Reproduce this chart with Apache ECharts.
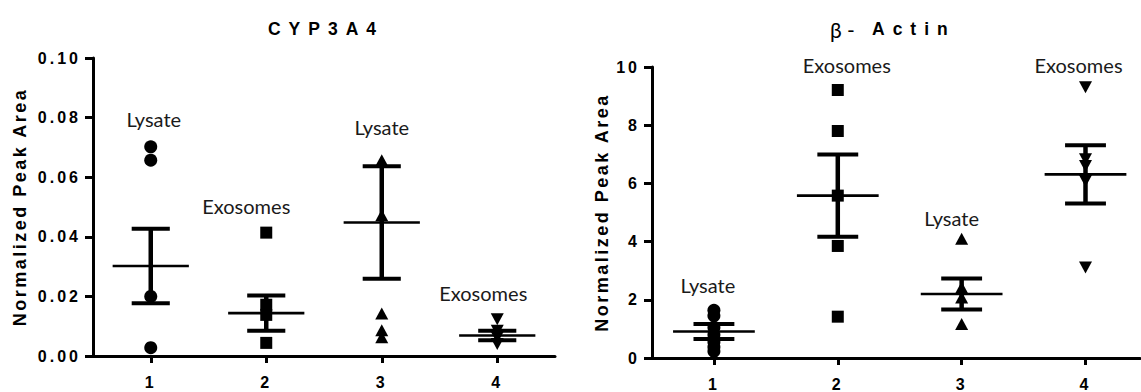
<!DOCTYPE html>
<html><head><meta charset="utf-8">
<script src="https://cdn.jsdelivr.net/npm/echarts@6/dist/echarts.min.js"></script>
<style>
html,body{margin:0;padding:0;background:#fff}
#c{width:1141px;height:392px}
svg text[style*="16px"]{letter-spacing:3px}
svg text[style*="18px"]{letter-spacing:2.5px}
svg text[style*="17.5px"]{letter-spacing:8px}
</style></head>
<body><div id="c"></div>
<script>
// ---- data ----
const categories = [1, 2, 3, 4];
const xTickLabels = ['1', '2', '3', '4'];
const groupLabels = ['Lysate', 'Exosomes', 'Lysate', 'Exosomes'];

// CYP3A4
const cypGroup1 = [0.0702, 0.0657, 0.0200, 0.0028];
const cypGroup2 = [0.0414, 0.0172, 0.0138, 0.0044];
const cypGroup3 = [0.0657, 0.0472, 0.0143, 0.0086, 0.0063];
const cypGroup4 = [0.0123, 0.0085, 0.0062, 0.0040];
const cypMean = [0.0302, 0.0144, 0.0448, 0.0069];
const cypSem = [0.0125, 0.0059, 0.0189, 0.0016];
const cypTickLabels = ['0.00', '0.02', '0.04', '0.06', '0.08', '0.10'];

// beta-Actin
const actGroup1 = [1.64, 1.45, 1.05, 0.80, 0.55, 0.38, 0.23];
const actGroup2 = [9.21, 7.80, 5.58, 3.85, 1.42];
const actGroup3 = [4.10, 2.42, 2.08, 1.17];
const actGroup4 = [9.30, 6.83, 6.60, 6.08, 3.11];
const actMean = [0.91, 5.58, 2.20, 6.31];
const actSem = [0.26, 1.41, 0.53, 1.00];
const actTickLabels = ['0', '2', '4', '6', '8', '10'];

// ---- chart ----
const chart = echarts.init(document.getElementById('c'), null, {renderer: 'svg'});
const BOLD = 'Liberation Sans';
const symbols = [
  {symbol: 'circle', size: 13, rotate: 0},
  {symbol: 'rect', size: 12, rotate: 0},
  {symbol: 'triangle', size: [13, 12], rotate: 0},
  {symbol: 'triangle', size: [13, 12], rotate: 180}
];

function scatter(gi, idx, values, labelOffset) {
  const s = symbols[idx];
  const x = categories[idx];
  let maxI = 0;
  values.forEach((v, i) => { if (v > values[maxI]) maxI = i; });
  const data = values.map((v, i) => {
    const item = {value: [x, v]};
    if (i === maxI) {
      item.label = {
        show: true, position: 'inside', offset: labelOffset,
        formatter: groupLabels[idx],
        fontFamily: 'Lato', fontSize: 20, color: '#1a1a1a'
      };
    }
    return item;
  });
  return {
    type: 'scatter', xAxisIndex: gi, yAxisIndex: gi, z: 3,
    symbol: s.symbol, symbolSize: s.size, symbolRotate: s.rotate,
    itemStyle: {color: '#000', opacity: 1}, clip: false,
    data: data
  };
}

function errRender(params, api) {
  const x = api.value(0), m = api.value(1), s = api.value(2);
  const c = api.coord([x, m]);
  const hi = api.coord([x, m + s]);
  const lo = api.coord([x, m - s]);
  const unit = api.size([1, 0])[0];
  const hw = unit * 0.33, cw = unit * 0.165;
  const st = (w) => ({stroke: '#000', lineWidth: w});
  return {type: 'group', children: [
    {type: 'line', shape: {x1: c[0] - hw, y1: c[1], x2: c[0] + hw, y2: c[1]}, style: st(2.6)},
    {type: 'line', shape: {x1: c[0], y1: hi[1], x2: c[0], y2: lo[1]}, style: st(4.5)},
    {type: 'line', shape: {x1: c[0] - cw, y1: hi[1], x2: c[0] + cw, y2: hi[1]}, style: st(4)},
    {type: 'line', shape: {x1: c[0] - cw, y1: lo[1], x2: c[0] + cw, y2: lo[1]}, style: st(4)}
  ]};
}

function errSeries(gi, means, sems) {
  return {
    type: 'custom', xAxisIndex: gi, yAxisIndex: gi, z: 2, clip: false,
    renderItem: errRender,
    data: categories.map((c, i) => [c, means[i], sems[i]])
  };
}

function xAxis(gi, max) {
  return {
    type: 'value', gridIndex: gi, min: 0.5, max: max,
    axisLine: {show: true, onZero: false, lineStyle: {color: '#000', width: 3}},
    axisTick: {show: true, customValues: categories, length: 7, lineStyle: {color: '#000', width: 3}},
    axisLabel: {customValues: categories, formatter: v => xTickLabels[categories.indexOf(v)],
      fontFamily: BOLD, fontWeight: 'bold', fontSize: 16, color: '#000', margin: 18},
    splitLine: {show: false}
  };
}

function yAxis(gi, max, interval, labels, nameGap) {
  return {
    type: 'value', gridIndex: gi, min: 0, max: max, interval: interval,
    name: 'Normalized Peak Area', nameLocation: 'middle', nameRotate: 90, nameGap: nameGap,
    nameTextStyle: {fontFamily: BOLD, fontWeight: 'bold', fontSize: 18, color: '#000'},
    axisLine: {show: true, lineStyle: {color: '#000', width: 3}},
    axisTick: {show: true, length: 8, lineStyle: {color: '#000', width: 3}},
    axisLabel: {formatter: v => labels[Math.round(v / interval)],
      fontFamily: BOLD, fontWeight: 'bold', fontSize: 16, color: '#000', margin: 12},
    splitLine: {show: false}
  };
}

chart.setOption({
  animation: false,
  backgroundColor: '#fff',
  title: [
    {text: 'CYP3A4', left: 326, top: 19, textAlign: 'center', padding: 0,
     textStyle: {fontFamily: BOLD, fontWeight: 'bold', fontSize: 17.5, color: '#000', lineHeight: 20}},
    {text: 'β -', left: 830, top: 18, textAlign: 'left', padding: 0,
     textStyle: {fontFamily: 'Lato', fontWeight: 'normal', fontSize: 21, color: '#000', lineHeight: 22}},
    {text: 'Actin', left: 872, top: 19, textAlign: 'left', padding: 0,
     textStyle: {fontFamily: BOLD, fontWeight: 'bold', fontSize: 17.5, color: '#000', lineHeight: 20}}
  ],
  grid: [
    {left: 93, right: 586, top: 58, bottom: 36},
    {left: 652, right: 1, top: 67, bottom: 33}
  ],
  xAxis: [xAxis(0, 4.5), xAxis(1, 4.44)],
  yAxis: [yAxis(0, 0.1, 0.02, cypTickLabels, 64), yAxis(1, 10, 2, actTickLabels, 41)],
  series: [
    errSeries(0, cypMean, cypSem),
    scatter(0, 0, cypGroup1, [3, -28]),
    scatter(0, 1, cypGroup2, [-20, -27]),
    scatter(0, 2, cypGroup3, [0, -33]),
    scatter(0, 3, cypGroup4, [-14, -26]),
    errSeries(1, actMean, actSem),
    scatter(1, 0, actGroup1, [-6, -25]),
    scatter(1, 1, actGroup2, [9, -25]),
    scatter(1, 2, actGroup3, [-10, -21]),
    scatter(1, 3, actGroup4, [-7, -22])
  ]
});
</script>
</body></html>
